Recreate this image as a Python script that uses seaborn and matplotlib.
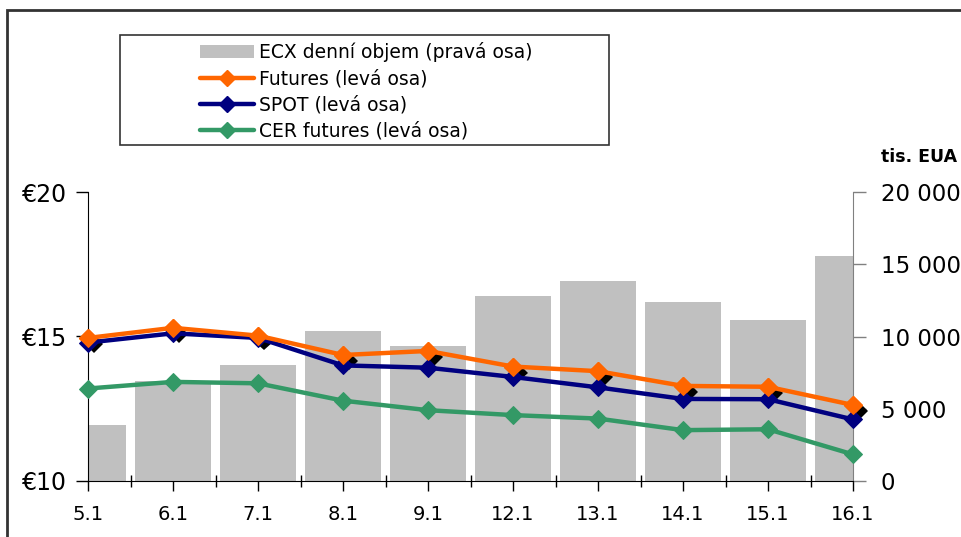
import numpy as np
import pandas as pd
import matplotlib
matplotlib.use("Agg")
import matplotlib.pyplot as plt
import matplotlib.patheffects as pe
from matplotlib.lines import Line2D
from matplotlib.patches import Patch, Rectangle
from matplotlib.ticker import FuncFormatter
import seaborn as sns

# data
days = ["5.1", "6.1", "7.1", "8.1", "9.1", "12.1", "13.1", "14.1", "15.1", "16.1"]
volume = [3900, 6900, 8000, 10400, 9350, 12800, 13850, 12400, 11150, 15600]   # tis. EUA
futures = [14.95, 15.30, 15.03, 14.36, 14.50, 13.96, 13.80, 13.29, 13.26, 12.63]
spot = [14.79, 15.11, 14.95, 14.00, 13.92, 13.60, 13.24, 12.84, 12.83, 12.13]
cer = [13.20, 13.43, 13.38, 12.78, 12.45, 12.28, 12.16, 11.76, 11.79, 10.92]

ORANGE = "#FF6600"
NAVY = "#000080"
GREEN = "#339966"
GREY = "#C0C0C0"

sns.set_style("white")
plt.rcParams['font.family'] = ['DejaVu Sans']
plt.rcParams['text.color'] = 'black'
plt.rcParams['xtick.labelcolor'] = 'black'
plt.rcParams['ytick.labelcolor'] = 'black'

df = pd.DataFrame({"day": days, "idx": np.arange(len(days)), "volume": volume,
                   "futures": futures, "spot": spot, "cer": cer})

fig = plt.figure(figsize=(9.61, 5.37), dpi=100)
ax = fig.add_axes([88/961, 1-481/537, (853-88)/961, (481-192)/537])

# bars on the base axis (volume, shown on the right)
sns.barplot(data=df, x="day", y="volume", color=GREY, saturation=1, width=0.9,
            edgecolor="none", ax=ax, zorder=2)
ax.set_xlabel("")
ax.set_ylabel("")

# price lines on the twin axis (shown on the left)
ax2 = ax.twinx()

ax.set_ylim(0, 20000)
ax.set_xlim(0, len(days) - 1)
ax.set_axisbelow(True)
ax.yaxis.tick_right()
ax.set_yticks([0, 5000, 10000, 15000, 20000])
ax.yaxis.set_major_formatter(FuncFormatter(lambda v, p: f"{int(v):,}".replace(",", " ")))
# gridlines follow the left (price) axis: €15 and €20
ax.set_yticks([10000, 20000], minor=True)
ax.grid(axis="y", which="minor", color="#C8C8C8", linestyle=(0, (5, 4)), linewidth=0.9)
ax.grid(axis="y", which="major", visible=False)
ax.tick_params(axis="y", which="major", direction="out", length=9, width=1, color="#808080",
               labelsize=16.5, labelcolor="black", pad=11, right=True, left=False,
               labelright=True, labelleft=False)
ax.tick_params(axis="y", which="minor", length=0, right=False, left=False)

# x ticks: categories + separators between them
ax.set_xticks(range(len(days)))
ax.set_xticklabels(days)
ax.set_xticks(np.arange(0.5, len(days) - 1, 1), minor=True)
ax.tick_params(axis="x", which="major", direction="out", length=7, width=1,
               color="black", labelsize=14, labelcolor="black", pad=10, bottom=True)
ax.tick_params(axis="x", which="minor", direction="inout", length=8, width=1,
               color="black", bottom=True)

for s in ["top", "left"]:
    ax.spines[s].set_visible(False)
ax.spines["right"].set_color("#808080")
ax.spines["bottom"].set_color("black")

ax2.set_ylim(10, 20)
ax2.yaxis.tick_left()
ax2.set_yticks([10, 15, 20])
ax2.yaxis.set_major_formatter(FuncFormatter(lambda v, p: f"€{int(v)}"))
ax2.tick_params(axis="y", direction="out", length=9, width=1, color="black",
                labelsize=17, labelcolor="black", pad=6, left=True, right=False,
                labelleft=True, labelright=False)
for s in ["top", "right", "bottom"]:
    ax2.spines[s].set_visible(False)
ax2.spines["left"].set_color("black")

# marker shadow of the futures series
ax2.plot(df["idx"], df["futures"], linestyle="none", marker="D", markersize=9,
         color=ORANGE, zorder=1, clip_on=False,
         path_effects=[pe.SimplePatchShadow(offset=(4.3, -4.3), shadow_rgbFace="black", alpha=1),
                       pe.Normal()])

for col, c in [("cer", GREEN), ("spot", NAVY), ("futures", ORANGE)]:
    sns.lineplot(data=df, x="idx", y=col, color=c, linewidth=3.2, marker="D",
                 markersize=9, markeredgecolor=c, ax=ax2, zorder=3, clip_on=False)
ax2.set_xlim(0, len(days) - 1)
ax2.set_xlabel("")
ax2.set_ylabel("")
if ax2.get_legend():
    ax2.get_legend().remove()

fig.text(957/961, 1-157/537, "tis. EUA", ha="right", va="center",
         fontsize=12.5, fontweight="bold", color="black")

# legend with box
handles = [Patch(facecolor=GREY, edgecolor="none"),
           Line2D([], [], color=ORANGE, lw=3.2, marker="D", markersize=8),
           Line2D([], [], color=NAVY, lw=3.2, marker="D", markersize=8),
           Line2D([], [], color=GREEN, lw=3.2, marker="D", markersize=8)]
labels = ["ECX denní objem (pravá osa)", "Futures (levá osa)",
          "SPOT (levá osa)", "CER futures (levá osa)"]
leg = fig.legend(handles, labels, loc="upper left", bbox_to_anchor=(200/961, 1-42/537),
                 frameon=False, fontsize=13.5, handlelength=2.9, handletextpad=0.25,
                 labelspacing=0.38, borderpad=0, borderaxespad=0)
for t in leg.get_texts():
    t.set_color("black")
fig.patches.append(Rectangle((120/961, 1-145/537), (609-120)/961, (145-35)/537,
                             transform=fig.transFigure, fill=False,
                             edgecolor="#333333", linewidth=1.2))
# outer frame
fig.patches.append(Rectangle((7/961, -0.05), 1.05, 1-10/537+0.05,
                             transform=fig.transFigure, fill=False,
                             edgecolor="#333333", linewidth=2))

fig.savefig("out.png", dpi=100)
